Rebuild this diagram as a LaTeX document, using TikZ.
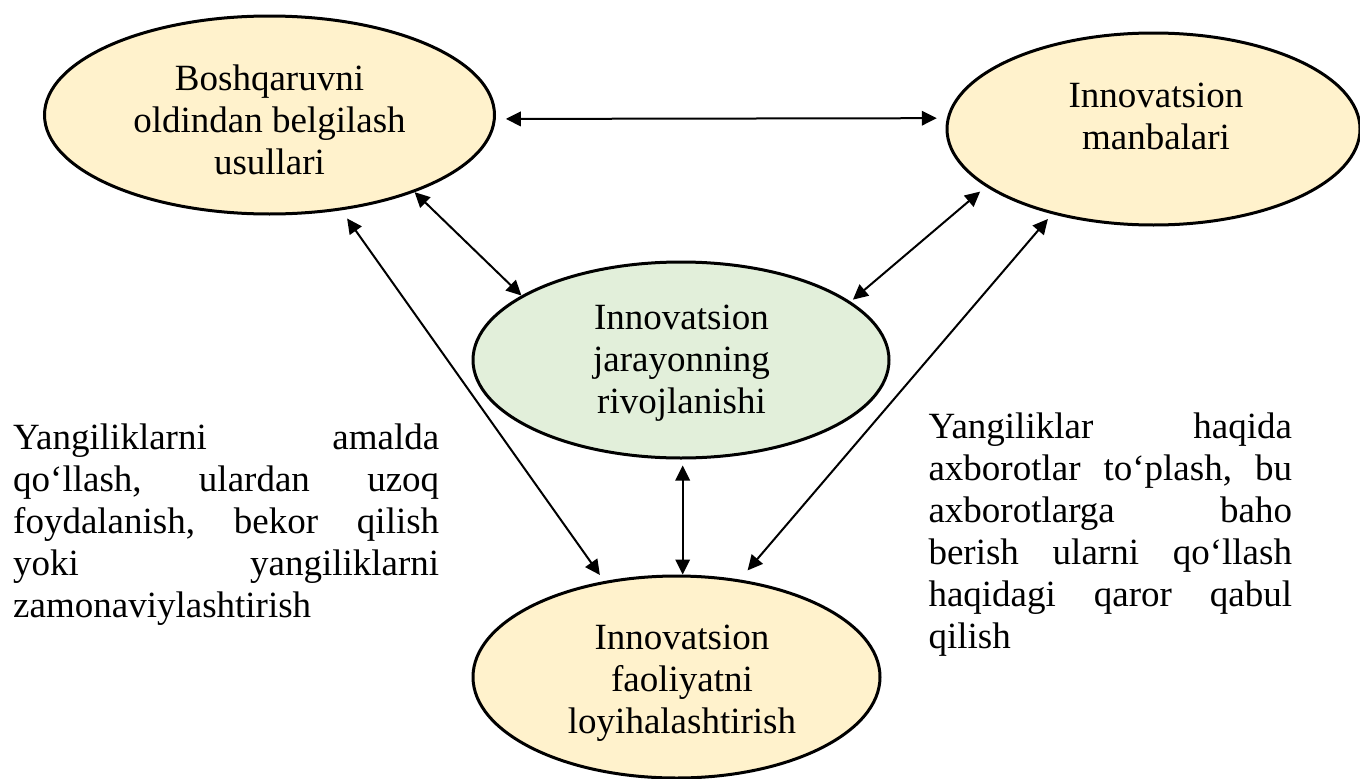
\documentclass[tikz,border=0pt]{standalone}
\usepackage{fontspec}
\setmainfont{Liberation Serif}
\usetikzlibrary{shapes.geometric,arrows.meta}
\definecolor{cream}{HTML}{FFF2CC}
\definecolor{lgreen}{HTML}{E2EFDA}
\newcommand\ctrlines[1]{\vtop{\baselineskip=42pt\halign{\hfil##\hfil\cr#1\crcr}}}
\tikzset{
  ell/.style={ellipse, draw=black, line width=3pt, inner sep=0pt},
  arr/.style={{Triangle[length=15pt,width=14.5pt]}-{Triangle[length=15pt,width=14.5pt]}, line width=2pt},
  txt/.style={inner sep=0pt, font=\fontsize{37}{42}\selectfont},
}
\begin{document}
\begin{tikzpicture}[x=1pt,y=-1pt]
\useasboundingbox (0,0) rectangle (1360,779);
% ellipses
\node[ell, fill=cream, minimum width=450pt, minimum height=198pt] (tl) at (269.5,115) {};
\node[ell, fill=cream, minimum width=413pt, minimum height=192pt] (tr) at (1153.5,129) {};
\node[ell, fill=lgreen, minimum width=416pt, minimum height=196pt] (mid) at (681,360) {};
\node[ell, fill=cream, minimum width=407pt, minimum height=202pt] (bot) at (676.5,677) {};
% ellipse texts
\node[txt, anchor=base] (tlt) at (269.5,90) {\ctrlines{Boshqaruvni\cr oldindan belgilash\cr usullari}};
\node[txt, anchor=base] (trt) at (1156,107.3) {\ctrlines{Innovatsion\cr manbalari}};
\node[txt, anchor=base] (midt) at (681.5,329) {\ctrlines{Innovatsion\cr jarayonning\cr rivojlanishi}};
\node[txt, anchor=base] (bott) at (682,649.3) {\ctrlines{Innovatsion\cr faoliyatni\cr loyihalashtirish}};
% side paragraphs
\node[txt, anchor=base west] (lefttext) at (13,449.3) {\vtop{%
  \hbox to 426pt{Yangiliklarni\hfill amalda}%
  \hbox to 426pt{qo‘llash,\hfill ulardan\hfill uzoq}%
  \hbox to 426pt{foydalanish,\hfill bekor\hfill qilish}%
  \hbox to 426pt{yoki\hfill yangiliklarni}%
  \hbox{zamonaviylashtirish}}};
\node[txt, anchor=base west] (righttext) at (928.3,438.3) {\vtop{%
  \hbox to 363.5pt{Yangiliklar\hfill haqida}%
  \hbox to 363.5pt{axborotlar\hfill to‘plash,\hfill bu}%
  \hbox to 363.5pt{axborotlarga\hfill baho}%
  \hbox to 363.5pt{berish\hfill ularni\hfill qo‘llash}%
  \hbox to 363.5pt{haqidagi\hfill qaror\hfill qabul}%
  \hbox{qilish}}};
% connectors
\draw[arr, shorten <=10pt, shorten >=10pt] (tl.-1.3) -- (tr.177.5);
\draw[arr] (tl.-28.8) -- (mid.158.9);
\draw[arr, shorten <=10pt, shorten >=7.5pt] (tl.-53) -- (bot.127.6);
\draw[arr, shorten <=7.5pt, shorten >=3pt] (tr.199.65) -- (mid.19.7);
\draw[arr, shorten <=6.4pt, shorten >=12pt] (tr.220.3) -- (bot.57.9);
\draw[arr, shorten <=6pt] ([xshift=1.7pt]mid.south) -- ([xshift=1.7pt]mid.south |- bot.north);
\end{tikzpicture}
\end{document}
